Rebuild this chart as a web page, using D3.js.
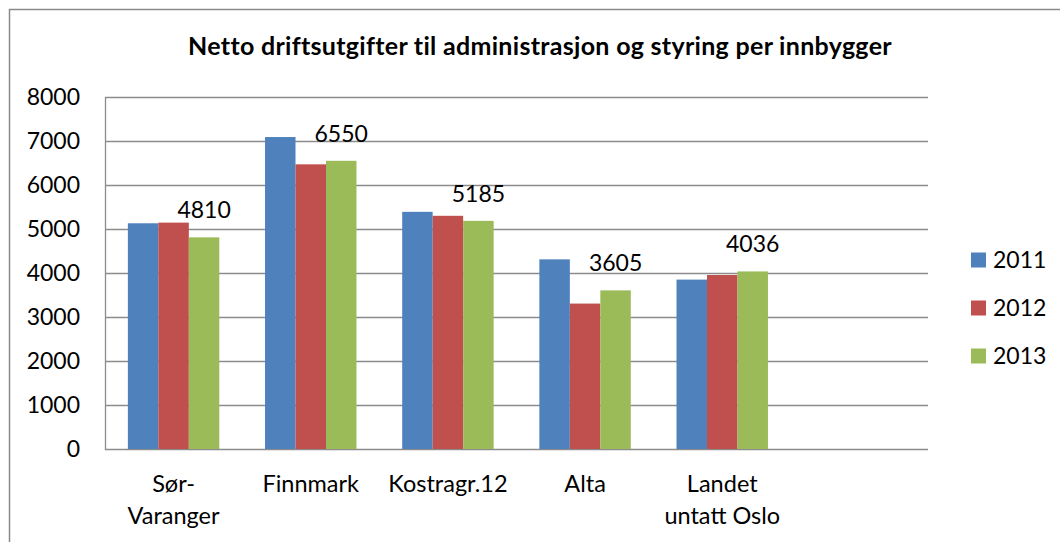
<!DOCTYPE html>
<meta charset="utf-8">
<style>
body { margin: 0; background: #fff; }
svg text { font-family: Lato, "Open Sans", sans-serif; fill: #000; }
.grid line { stroke: #8c8c8c; stroke-width: 1.3px; }
.title-text { font-size: 25px; font-weight: bold; letter-spacing: 0.3px; }
.tick-text { font-size: 23px; }
.cat-text { font-size: 23.5px; }
</style>
<body>
<div id="chartarea"></div>
<script src="https://cdn.jsdelivr.net/npm/d3@7"></script>
<script>

// data
var categories = [["Sør-", "Varanger"], ["Finnmark"], ["Kostragr.12"], ["Alta"], ["Landet", "untatt Oslo"]];
var years = ["2011", "2012", "2013"];
var v2011 = [5130, 7090, 5390, 4310, 3850];
var v2012 = [5145, 6470, 5300, 3305, 3955];
var v2013 = [4810, 6550, 5185, 3605, 4036];
var yTicks = [0, 1000, 2000, 3000, 4000, 5000, 6000, 7000, 8000];
var colors = ["#4F81BD", "#C0504D", "#9BBB59"];

var series = [v2011, v2012, v2013];

var svg = d3.select("#chartarea").append("svg")
    .attr("width", 1060)
    .attr("height", 542);

// outer chart border
svg.append("rect")
    .attr("x", 9.5)
    .attr("y", 9.5)
    .attr("width", 1070)
    .attr("height", 560)
    .attr("fill", "#fff")
    .attr("stroke", "#8a8a8a")
    .attr("stroke-width", 1.5);

svg.append("text")
    .attr("class", "title-text")
    .attr("text-anchor", "middle")
    .attr("x", 540)
    .attr("y", 55)
    .text("Netto driftsutgifter til administrasjon og styring per innbygger");

// scales -- one empty slot at the end like the original
var x = d3.scaleBand()
    .domain(d3.range(categories.length + 1))
    .range([105, 928])
    .paddingInner(0)
    .paddingOuter(0);

var y = d3.scaleLinear()
    .domain([0, 8000])
    .range([449, 97]);

var barW = x.bandwidth() / 4.5;

// gridlines
svg.append("g")
    .attr("class", "grid")
    .selectAll("line")
    .data(yTicks)
    .enter().append("line")
    .attr("x1", 105)
    .attr("x2", 928)
    .attr("y1", function(d) { return Math.round(y(d)) + 0.5; })
    .attr("y2", function(d) { return Math.round(y(d)) + 0.5; });

// left axis line
svg.append("line")
    .attr("x1", 105.5).attr("x2", 105.5)
    .attr("y1", y(8000)).attr("y2", y(0) + 1)
    .attr("stroke", "#8c8c8c")
    .attr("stroke-width", 1.3);

svg.append("g")
    .selectAll("text")
    .data(yTicks)
    .enter().append("text")
    .attr("class", "tick-text")
    .attr("text-anchor", "end")
    .attr("x", 80)
    .attr("y", function(d) { return y(d); })
    .attr("dy", "0.36em")
    .text(function(d) { return d; });

// bars
series.forEach(function(vals, s) {
  svg.append("g")
    .selectAll("rect")
    .data(vals)
    .enter().append("rect")
    .attr("x", function(d, i) { return x(i) + 0.75 * barW + s * barW; })
    .attr("width", barW)
    .attr("y", function(d) { return y(d); })
    .attr("height", function(d) { return y(0) - y(d); })
    .attr("fill", colors[s]);
});

// data labels only for 2013
svg.append("g")
    .selectAll("text")
    .data(v2013)
    .enter().append("text")
    .attr("class", "tick-text")
    .attr("text-anchor", "middle")
    .attr("x", function(d, i) { return x(i) + 0.75 * barW + 2.5 * barW; })
    .attr("y", function(d) { return y(d) - 19; })
    .text(function(d) { return d; });

// category labels
var cat = svg.append("g")
    .selectAll("text")
    .data(categories)
    .enter().append("text")
    .attr("class", "cat-text")
    .attr("text-anchor", "middle")
    .attr("x", function(d, i) { return x(i) + x.bandwidth() / 2; })
    .attr("y", 492);

cat.selectAll("tspan")
    .data(function(d) { return d; })
    .enter().append("tspan")
    .attr("x", function() { return d3.select(this.parentNode).attr("x"); })
    .attr("dy", function(d, i) { return i === 0 ? 0 : 32; })
    .text(function(d) { return d; });

// legend
var legend = svg.append("g")
    .selectAll("g")
    .data(years)
    .enter().append("g")
    .attr("transform", function(d, i) { return "translate(971," + (260 + i * 48) + ")"; });

legend.append("rect")
    .attr("x", 0)
    .attr("y", -7.5)
    .attr("width", 15)
    .attr("height", 15)
    .attr("fill", function(d, i) { return colors[i]; });

legend.append("text")
    .attr("class", "tick-text")
    .attr("x", 22)
    .attr("y", 0)
    .attr("dy", "0.36em")
    .text(function(d) { return d; });

</script>
